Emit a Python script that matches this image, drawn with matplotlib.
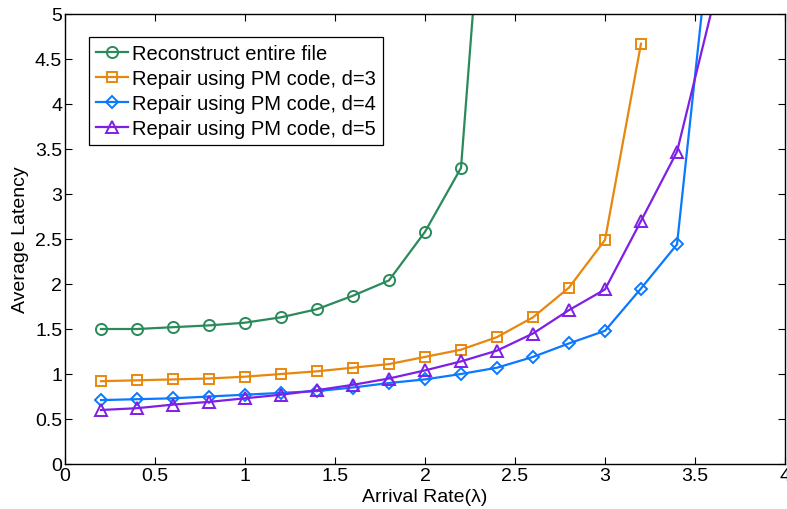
import matplotlib.pyplot as plt

plt.rcParams["font.family"] = ["Liberation Sans", "DejaVu Sans"]

# Arrival rate values
rates = [0.2, 0.4, 0.6, 0.8, 1.0, 1.2, 1.4, 1.6, 1.8, 2.0, 2.2, 2.4, 2.6, 2.8, 3.0, 3.2, 3.4, 3.6]

# Average latency for each scheme
reconstruct = [1.50, 1.50, 1.52, 1.54, 1.57, 1.63, 1.72, 1.87, 2.04, 2.58, 3.29, 8.5]
pm_d3 = [0.92, 0.93, 0.94, 0.95, 0.97, 1.00, 1.03, 1.07, 1.11, 1.19, 1.27, 1.41,
         1.63, 1.96, 2.49, 4.67]
pm_d4 = [0.71, 0.72, 0.73, 0.75, 0.77, 0.79, 0.81, 0.85, 0.90, 0.94, 1.00, 1.07,
         1.19, 1.34, 1.48, 1.95, 2.44, 6.18]
pm_d5 = [0.60, 0.62, 0.66, 0.69, 0.73, 0.77, 0.82, 0.88, 0.95, 1.04, 1.14, 1.26,
         1.45, 1.71, 1.94, 2.70, 3.47, 5.1]

labels = ["Reconstruct entire file",
          "Repair using PM code, d=3",
          "Repair using PM code, d=4",
          "Repair using PM code, d=5"]

fig = plt.figure(figsize=(7.87, 5.10), dpi=100)
ax = fig.add_axes([65 / 787, 45 / 510, 720 / 787, 450 / 510])

ax.plot(rates[:len(reconstruct)], reconstruct, color="#2a8a5a", marker="o",
        markersize=8, markerfacecolor="none", markeredgewidth=1.4, linewidth=1.6,
        label=labels[0])
ax.plot(rates[:len(pm_d3)], pm_d3, color="#e8870e", marker="s",
        markersize=6.5, markerfacecolor="none", markeredgewidth=1.4, linewidth=1.6,
        label=labels[1])
ax.plot(rates[:len(pm_d4)], pm_d4, color="#0a78ff", marker="D",
        markersize=6.5, markerfacecolor="none", markeredgewidth=1.4, linewidth=1.6,
        label=labels[2])
ax.plot(rates[:len(pm_d5)], pm_d5, color="#7f1fe6", marker="^",
        markersize=9, markerfacecolor="none", markeredgewidth=1.4, linewidth=1.6,
        label=labels[3])

ax.set_xlim(0, 4)
ax.set_ylim(0, 5)
ax.set_xticks([0, 0.5, 1, 1.5, 2, 2.5, 3, 3.5, 4])
ax.set_xticklabels(["0", "0.5", "1", "1.5", "2", "2.5", "3", "3.5", "4"])
ax.set_yticks([0, 0.5, 1, 1.5, 2, 2.5, 3, 3.5, 4, 4.5, 5])
ax.set_yticklabels(["0", "0.5", "1", "1.5", "2", "2.5", "3", "3.5", "4", "4.5", "5"])
ax.tick_params(direction="in", top=True, right=True, length=5, labelsize=14, pad=2)
for s in ax.spines.values():
    s.set_linewidth(1.0)

ax.set_xlabel("Arrival Rate(λ)", fontsize=14, labelpad=3)
ax.set_ylabel("Average Latency", fontsize=14, labelpad=4)

leg = ax.legend(loc="upper left", bbox_to_anchor=(0.033, 0.95), borderaxespad=0,
                fontsize=14.5, fancybox=False, framealpha=1, edgecolor="black",
                handlelength=1.6, handletextpad=0.2, labelspacing=0.3,
                borderpad=0.35)
leg.get_frame().set_linewidth(0.9)

fig.savefig("out.png", dpi=100)
